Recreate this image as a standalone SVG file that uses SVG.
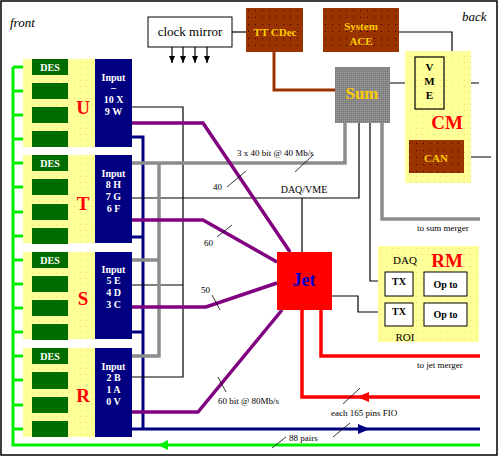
<svg xmlns="http://www.w3.org/2000/svg" width="499" height="457" viewBox="0 0 499 457">
<style>
.t{font-family:"Liberation Serif",serif;fill:#000}
.s{font-size:9px}
.w{font-family:"Liberation Serif",serif;font-weight:bold;fill:#fff;font-size:10px;text-anchor:middle}
.y{font-family:"Liberation Serif",serif;font-weight:bold;fill:#ffcc00;text-anchor:middle}
.r{font-family:"Liberation Serif",serif;font-weight:bold;fill:#ff0000;text-anchor:middle;font-size:19px}
.des{fill:url(#gp);}
.inp{fill:#000080}
.pale{fill:url(#yp)}
.br{fill:url(#bp)}
.k{stroke:#000;stroke-width:1.2;fill:none}
.g{stroke:#00ee00;stroke-width:3;fill:none}
.c{stroke:#33cccc;stroke-width:2.5;fill:none}
.n{stroke:#000080;stroke-width:3;fill:none}
.p{stroke:#800080;stroke-width:3.5;fill:none}
.gr{stroke:#8c8c8c;stroke-width:3.5;fill:none}
.rd{stroke:#ff0000;stroke-width:3.5;fill:none}
.tk{stroke:#000;stroke-width:0.8;fill:none}
.ck{stroke:#000;stroke-width:1.2;fill:none;marker-end:url(#ad)}
</style>
<defs>
<pattern id="yp" width="6" height="6" patternUnits="userSpaceOnUse"><rect width="6" height="6" fill="#ffff99"/><rect x="2" y="2" width="1" height="1" fill="#e8e070"/></pattern>
<pattern id="bp" width="7" height="7" patternUnits="userSpaceOnUse"><rect width="7" height="7" fill="#993300"/><rect x="3" y="3" width="1" height="1" fill="#330000"/></pattern>
<pattern id="gp" width="2" height="2" patternUnits="userSpaceOnUse"><rect width="2" height="2" fill="#006600"/><rect width="1" height="1" fill="#008000"/></pattern>
<pattern id="sp" width="2" height="2" patternUnits="userSpaceOnUse"><rect width="2" height="2" fill="#808080"/><rect width="1" height="1" fill="#a0a0a0"/></pattern>
<marker id="ad" markerWidth="7" markerHeight="6" refX="7" refY="3" orient="auto" markerUnits="userSpaceOnUse" viewBox="0 0 7 6"><path d="M0,0 L7,3 L0,6 Z" fill="#000"/></marker>
</defs>
<rect x="0" y="0" width="499" height="457" fill="#fff"/>
<rect x="1" y="1" width="496" height="454" fill="none" stroke="#000" stroke-width="1.5"/>
<text class="t" x="10" y="27" font-style="italic" font-size="13">front</text>
<text class="t" x="462" y="21" font-style="italic" font-size="13">back</text>

<g id="connectors">
<!-- green bus -->
<path class="g" d="M13,67 V445 H480"/>
<path d="M158,445 L168,440 L168,450 Z" fill="#00ee00"/>
<path class="g" d="M13,67 H32 M13,91 H32 M13,115 H32 M13,139 H32 M13,163 H32 M13,187 H32 M13,212 H32 M13,236 H32 M13,260 H32 M13,284 H32 M13,308 H32 M13,332 H32 M13,356 H32 M13,380 H32 M13,405 H32 M13,429 H32"/>
<!-- cyan -->
<path class="c" d="M68,67 H95 M68,91 H95 M68,115 H95 M68,139 H95 M68,163 H95 M68,187 H95 M68,212 H95 M68,236 H95 M68,260 H95 M68,284 H95 M68,308 H95 M68,332 H95 M68,356 H95 M68,380 H95 M68,405 H95 M68,429 H95"/>
<!-- navy -->
<path class="n" d="M132,137 H143 V429 M132,237 H143 M132,332 H143 M132,429 H480"/>
<path d="M370,429 L358,424 L358,434 Z" fill="#000080"/>
<!-- black -->
<path class="k" d="M132,107 H183 V377 H132 M132,285 H183 M132,198 H359 V123 M302,198 V252"/>
<path class="k" d="M370,123 V281 H385 M332,296 H358 V312 H385"/>
<path class="k" d="M390,83 H415 M444,83 H479 M464,157 H491 M399,32 H452 V66"/>
<path class="k" d="M232,32 H246"/>
<path class="k" d="M413,286 H424 M467,285 H479 M413,316 H424 M467,316 H478"/>
<path class="ck" d="M172,47 V63"/>
<path class="ck" d="M183,47 V63"/>
<path class="ck" d="M195,47 V63"/>
<path class="ck" d="M207,47 V63"/>
<!-- brown -->
<path d="M274,52 V90 H335" stroke="#993300" stroke-width="3" fill="none"/>
<!-- gray -->
<path class="gr" d="M345,123 V163 H132 M159,163 V356 H132 M159,260 H132 M382,123 V219 H480"/>
<!-- purple -->
<path class="p" d="M132,123 H203 L290,252 M132,220 H203 L277,262 M132,307 H206 L277,283 M127,412 H198 L282,310"/>
<!-- red -->
<path class="rd" d="M321,310 V356 H480 M302,310 V397 H480"/>
<path d="M357,397 L369,392 L369,402 Z" fill="#ff0000"/>
<!-- tick marks -->
<path class="tk" d="M295,172 L313,155 M227,187 L246,171 M217,237 L232,225 M212,295 L220,310 M218,377 L226,392 M343,404 L360,388 M333,437 L350,423 M272,448 L286,437"/>
</g>

<g id="labels">
<text class="t s" x="237" y="156">3 x 40 bit @ 40 Mb/s</text>
<text class="t s" x="213" y="190">40</text>
<text class="t s" x="204" y="246">60</text>
<text class="t s" x="201" y="293">50</text>
<text class="t" x="304" y="193" font-size="10" text-anchor="middle">DAQ/VME</text>
<text class="t s" x="218" y="404">60 bit @ 80Mb/s</text>
<text class="t s" x="417" y="231">to sum merger</text>
<text class="t s" x="417" y="368">to jet merger</text>
<text class="t s" x="331" y="416">each 165 pins FIO</text>
<rect x="288" y="432" width="32" height="10" fill="#fff"/>
<text class="t s" x="289" y="441">88 pairs</text>
</g>

<g id="clock-mirror">
<rect x="148" y="17" width="84" height="30" fill="#fff" stroke="#000" stroke-width="1"/>
<text class="t" x="190" y="36" font-size="13" text-anchor="middle">clock mirror</text>
</g>
<g id="ttcdec">
<rect class="br" x="246" y="8" width="57" height="44"/>
<text class="y" x="275" y="36" font-size="11">TT CDec</text>
</g>
<g id="system-ace">
<rect class="br" x="323" y="8" width="76" height="44"/>
<text class="y" x="361" y="30" font-size="11">System</text>
<text class="y" x="361" y="45" font-size="11">ACE</text>
</g>
<g id="sum">
<rect x="335" y="67" width="55" height="56" fill="url(#sp)"/>
<text class="y" x="362" y="99" font-size="17">Sum</text>
</g>
<g id="cm">
<rect class="pale" x="405" y="51" width="66" height="132"/>
<rect x="415" y="57" width="29" height="52" fill="none" stroke="#000" stroke-width="1.2"/>
<text class="t" x="429.5" y="71" font-size="11" font-weight="bold" text-anchor="middle">V</text>
<text class="t" x="429.5" y="85" font-size="11" font-weight="bold" text-anchor="middle">M</text>
<text class="t" x="429.5" y="99" font-size="11" font-weight="bold" text-anchor="middle">E</text>
<text class="r" x="447" y="129">CM</text>
<rect class="br" x="409" y="140" width="55" height="33"/>
<text class="y" x="436" y="162" font-size="11">CAN</text>
</g>
<g id="jet">
<rect x="277" y="252" width="55" height="58" fill="#ff0000"/>
<text x="304" y="286" font-family="Liberation Serif,serif" font-weight="bold" font-size="18" fill="#0000cc" text-anchor="middle">Jet</text>
</g>
<g id="rm">
<rect class="pale" x="378" y="246" width="101" height="96"/>
<text class="t" x="405" y="264" font-size="11" text-anchor="middle">DAQ</text>
<text class="r" x="447" y="267">RM</text>
<rect x="385" y="272" width="28" height="24" fill="#fff" stroke="#000"/>
<text class="t" x="399" y="285" font-size="10" font-weight="bold" text-anchor="middle">TX</text>
<rect x="424" y="272" width="43" height="24" fill="#fff" stroke="#000"/>
<text class="t" x="445.5" y="288" font-size="10" font-weight="bold" text-anchor="middle">Op to</text>
<rect x="385" y="303" width="28" height="23" fill="#fff" stroke="#000"/>
<text class="t" x="399" y="315" font-size="10" font-weight="bold" text-anchor="middle">TX</text>
<rect x="424" y="303" width="43" height="23" fill="#fff" stroke="#000"/>
<text class="t" x="445.5" y="318" font-size="10" font-weight="bold" text-anchor="middle">Op to</text>
<text class="t" x="405" y="341" font-size="11" text-anchor="middle">ROI</text>
</g>

<g id="crate-u">
<rect class="pale" x="23" y="59" width="72" height="88"/>
<rect class="des" x="32" y="59" width="36" height="16"/>
<rect class="des" x="32" y="83" width="36" height="16"/>
<rect class="des" x="32" y="107" width="36" height="16"/>
<rect class="des" x="32" y="131" width="36" height="16"/>
<text class="w" x="50" y="71" font-size="11">DES</text>
<text class="r" x="83" y="114">U</text>
<rect class="inp" x="95" y="59" width="37" height="88"/>
<text class="w" x="113.5" y="81">Input</text>
<text class="w" x="113.5" y="91">–</text>
<text class="w" x="113.5" y="103">10 X</text>
<text class="w" x="113.5" y="115">9 W</text>
</g>
<g id="crate-t">
<rect class="pale" x="23" y="155" width="72" height="88"/>
<rect class="des" x="32" y="155" width="36" height="16"/>
<rect class="des" x="32" y="179" width="36" height="16"/>
<rect class="des" x="32" y="204" width="36" height="16"/>
<rect class="des" x="32" y="228" width="36" height="16"/>
<text class="w" x="50" y="167" font-size="11">DES</text>
<text class="r" x="83" y="210">T</text>
<rect class="inp" x="95" y="155" width="37" height="88"/>
<text class="w" x="113.5" y="177">Input</text>
<text class="w" x="113.5" y="188">8 H</text>
<text class="w" x="113.5" y="200">7 G</text>
<text class="w" x="113.5" y="212">6 F</text>
</g>
<g id="crate-s">
<rect class="pale" x="23" y="252" width="72" height="87"/>
<rect class="des" x="32" y="252" width="36" height="16"/>
<rect class="des" x="32" y="276" width="36" height="16"/>
<rect class="des" x="32" y="300" width="36" height="16"/>
<rect class="des" x="32" y="324" width="36" height="16"/>
<text class="w" x="50" y="264" font-size="11">DES</text>
<text class="r" x="83" y="305">S</text>
<rect class="inp" x="95" y="252" width="37" height="87"/>
<text class="w" x="113.5" y="273">Input</text>
<text class="w" x="113.5" y="284">5 E</text>
<text class="w" x="113.5" y="296">4 D</text>
<text class="w" x="113.5" y="308">3 C</text>
</g>
<g id="crate-r">
<rect class="pale" x="23" y="348" width="72" height="89"/>
<rect class="des" x="32" y="348" width="36" height="16"/>
<rect class="des" x="32" y="372" width="36" height="17"/>
<rect class="des" x="32" y="397" width="36" height="16"/>
<rect class="des" x="32" y="421" width="36" height="16"/>
<text class="w" x="50" y="360" font-size="11">DES</text>
<text class="r" x="83" y="402">R</text>
<rect class="inp" x="95" y="348" width="37" height="89"/>
<text class="w" x="113.5" y="370">Input</text>
<text class="w" x="113.5" y="381">2 B</text>
<text class="w" x="113.5" y="393">1 A</text>
<text class="w" x="113.5" y="405">0 V</text>
</g>
</svg>
